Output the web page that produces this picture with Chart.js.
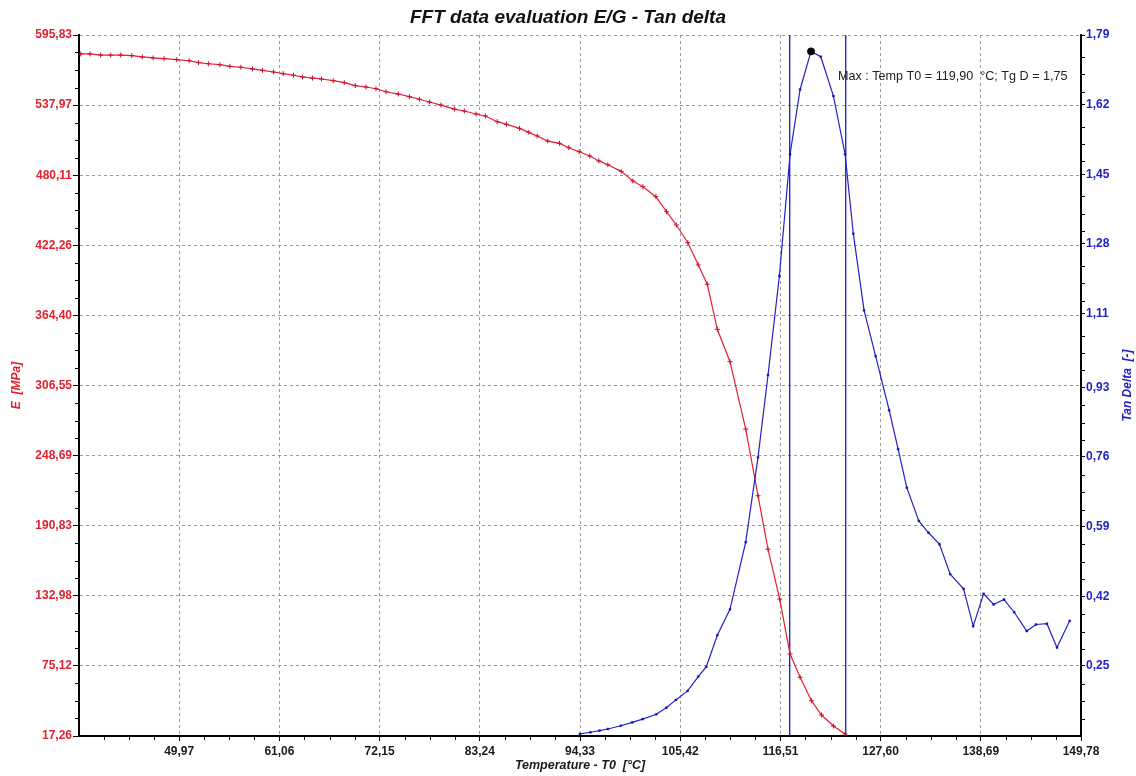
<!DOCTYPE html>
<html><head><meta charset="utf-8">
<script src="https://cdn.jsdelivr.net/npm/chart.js@4"></script>
<style>html,body{margin:0;padding:0;background:#fff;}canvas{display:block;}</style>
</head><body>
<canvas id="c" width="1136" height="776"></canvas>
<script>
const chartTitle = 'FFT data evaluation E/G - Tan delta';
const xTitle = 'Temperature - T0  [°C]';
const yLeftTitle = 'E  [MPa]';
const yRightTitle = 'Tan Delta  [-]';

const xMin = 38.88;
const tanMin = 0.0789;
const xTickLabels = ['49,97','61,06','72,15','83,24','94,33','105,42','116,51','127,60','138,69','149,78'];
const eTickLabels = ['17,26','75,12','132,98','190,83','248,69','306,55','364,40','422,26','480,11','537,97','595,83'];
const tanTickLabels = ['0,25','0,42','0,59','0,76','0,93','1,11','1,28','1,45','1,62','1,79'];

const tempE = [39.07,40.10,41.28,42.39,43.50,44.72,45.89,47.08,48.30,49.70,51.07,52.10,53.20,54.47,55.58,56.80,58.08,59.19,60.41,61.48,62.62,63.62,64.73,65.72,67.02,68.24,69.46,70.64,71.75,72.86,74.22,75.44,76.55,77.66,78.95,80.43,81.53,82.83,83.86,85.16,86.19,87.63,88.66,89.59,90.76,92.06,93.09,94.24,95.41,96.41,97.41,98.89,100.18,101.29,102.73,103.91,104.99,106.27,107.42,108.42,109.53,110.93,112.67,114.03,115.14,116.43,117.58,118.69,119.95,121.06,122.38,123.67];
const modulusE = [580.2,580.2,579.3,579.3,579.3,578.8,577.7,576.9,576.3,575.5,574.6,573.0,572.1,571.3,570.0,569.2,567.8,566.7,565.3,563.9,562.6,561.2,560.3,559.5,558.1,556.5,554.0,552.9,551.5,549.0,547.1,544.9,542.8,540.5,538.0,534.7,533.1,530.6,529.0,524.3,522.1,518.8,515.5,512.5,508.3,506.4,502.8,499.5,496.0,491.9,488.8,483.3,475.3,470.6,462.4,450.0,439.0,424.4,406.0,390.1,352.9,326.2,270.6,215.6,171.4,130.3,84.9,65.7,46.4,34.6,25.5,18.9];

const tempTan = [94.31,95.49,96.49,97.41,98.85,100.11,101.26,102.77,103.88,104.94,106.24,107.42,108.31,109.53,110.93,112.67,114.03,115.14,116.40,117.58,118.69,119.90,120.98,122.38,123.67,124.58,125.77,127.05,128.55,129.54,130.50,131.83,132.91,134.12,135.30,136.78,137.85,139.00,140.11,141.25,142.39,143.77,144.79,146.01,147.12,148.53];
const tanDelta = [0.084,0.088,0.092,0.096,0.104,0.112,0.120,0.132,0.148,0.167,0.189,0.224,0.248,0.325,0.388,0.552,0.759,0.960,1.202,1.499,1.657,1.750,1.737,1.641,1.499,1.305,1.118,1.006,0.874,0.779,0.685,0.604,0.575,0.547,0.474,0.438,0.347,0.426,0.400,0.412,0.381,0.335,0.351,0.353,0.295,0.360];

const markerTemps = [117.54, 123.74];

const parseNum = s => parseFloat(s.replace(',', '.'));
const fmtNum = v => v.toFixed(2).replace('.', ',');
const FONT = '"Liberation Sans", Arial, sans-serif';
const RED = '#e3202e';
const BLUE = '#2222c8';

const eData = tempE.map((t, i) => ({x: t, y: modulusE[i]}));
const tanData = tempTan.map((t, i) => ({x: t, y: tanDelta[i]}));
let maxIdx = 0;
tanDelta.forEach((v, i) => { if (v > tanDelta[maxIdx]) maxIdx = i; });
const maxPoint = {x: tempTan[maxIdx], y: tanDelta[maxIdx]};
const tanMax = parseNum(tanTickLabels[tanTickLabels.length - 1]);

const lineSets = markerTemps.map(t => ({
  data: [{x: t, y: tanMin}, {x: t, y: tanMax}],
  yAxisID: 'yT', borderColor: '#1a1ac0', borderWidth: 1.3, pointRadius: 0, showLine: true, order: 3
}));

const decor = {
  id: 'decor',
  afterDraw(chart) {
    const ctx = chart.ctx, a = chart.chartArea;
    ctx.save();
    ctx.strokeStyle = '#000';
    ctx.lineWidth = 1;
    const minors = (scale, dir) => {
      const vals = scale.ticks.map(t => t.value);
      const step = (vals[1] - vals[0]) / 4;
      for (let v = scale.min + step; v < scale.max - step / 2; v += step) {
        const k = Math.round((v - scale.min) / step);
        if (k % 4 === 0) continue;
        const p = Math.round(scale.getPixelForValue(v)) + 0.5;
        ctx.beginPath();
        if (dir === 'left') { ctx.moveTo(a.left - 4, p); ctx.lineTo(a.left, p); }
        else if (dir === 'right') { ctx.moveTo(a.right, p); ctx.lineTo(a.right + 4, p); }
        else { ctx.moveTo(p, a.bottom); ctx.lineTo(p, a.bottom + 4); }
        ctx.stroke();
      }
    };
    minors(chart.scales.yE, 'left');
    minors(chart.scales.yT, 'right');
    minors(chart.scales.x, 'bottom');

    ctx.font = 'italic bold 12px ' + FONT;
    ctx.textAlign = 'center';
    ctx.textBaseline = 'middle';
    const cy = (a.top + a.bottom) / 2;
    ctx.fillStyle = RED;
    ctx.save(); ctx.translate(17, cy); ctx.rotate(-Math.PI / 2); ctx.fillText(yLeftTitle, 0, 0); ctx.restore();
    ctx.fillStyle = BLUE;
    ctx.save(); ctx.translate(1128, cy); ctx.rotate(-Math.PI / 2); ctx.fillText(yRightTitle, 0, 0); ctx.restore();
    ctx.fillStyle = '#1a1a1a';
    ctx.font = 'italic bold 12.5px ' + FONT;
    ctx.fillText(xTitle, (a.left + a.right) / 2, 766);

    const px = chart.scales.x.getPixelForValue(maxPoint.x);
    const py = chart.scales.yT.getPixelForValue(maxPoint.y);
    ctx.font = '12.6px ' + FONT;
    ctx.textAlign = 'left';
    ctx.fillStyle = '#222';
    ctx.fillText('Max : Temp T0 = ' + fmtNum(maxPoint.x) + '  °C; Tg D = ' + fmtNum(maxPoint.y), px + 27, py + 25);
    ctx.restore();
  }
};

new Chart(document.getElementById('c'), {
  type: 'scatter',
  data: {
    datasets: [
      {data: eData, yAxisID: 'yE', showLine: true, borderColor: RED, borderWidth: 1.2,
       pointStyle: 'cross', pointRadius: 2.5, pointBorderWidth: 1, pointBorderColor: '#c8102a', order: 2},
      {data: tanData, yAxisID: 'yT', showLine: true, borderColor: BLUE, borderWidth: 1.2,
       pointStyle: 'rect', pointRadius: 1.3, pointBackgroundColor: '#1010b0', pointBorderColor: '#1010b0', pointBorderWidth: 0.5, order: 1},
      ...lineSets,
      {data: [maxPoint], yAxisID: 'yT', pointStyle: 'circle', pointRadius: 3.5, pointBackgroundColor: '#000', pointBorderColor: '#000', order: 0}
    ]
  },
  options: {
    responsive: false,
    animation: false,
    devicePixelRatio: 1,
    layout: {padding: 0},
    plugins: {
      legend: {display: false},
      tooltip: {enabled: false},
      title: {display: true, text: chartTitle, color: '#111',
        font: {family: FONT, size: 19, weight: 'bold', style: 'italic'},
        padding: {top: 6, bottom: 6.2}}
    },
    scales: {
      x: {
        type: 'linear', position: 'bottom', min: xMin, max: parseNum(xTickLabels[xTickLabels.length - 1]),
        afterBuildTicks: s => { s.ticks = xTickLabels.map(l => ({value: parseNum(l)})); },
        afterFit: s => { s.height = 40; },
        ticks: {callback: (v, i) => xTickLabels[i], color: '#1a1a1a', font: {family: FONT, size: 12, weight: 'bold'},
          padding: 3, maxRotation: 0, autoSkip: false},
        grid: {color: '#9a9a9a', lineWidth: 1, drawTicks: true, tickLength: 5, tickColor: '#000'},
        border: {display: true, color: '#000', width: 2, dash: [3, 3]}
      },
      yE: {
        type: 'linear', position: 'left', min: parseNum(eTickLabels[0]), max: parseNum(eTickLabels[eTickLabels.length - 1]),
        afterBuildTicks: s => { s.ticks = eTickLabels.map(l => ({value: parseNum(l)})); },
        afterFit: s => { s.width = 79; },
        ticks: {callback: (v, i) => eTickLabels[i], color: RED, font: {family: FONT, size: 12, weight: 'bold'},
          padding: 1, autoSkip: false},
        grid: {color: '#9a9a9a', lineWidth: 1, drawTicks: true, tickLength: 6, tickColor: '#000'},
        border: {display: true, color: '#000', width: 2, dash: [3, 3]}
      },
      yT: {
        type: 'linear', position: 'right', min: tanMin, max: tanMax,
        afterBuildTicks: s => { s.ticks = tanTickLabels.map(l => ({value: parseNum(l)})); },
        afterFit: s => { s.width = 55; },
        ticks: {callback: (v, i) => tanTickLabels[i], color: BLUE, font: {family: FONT, size: 12, weight: 'bold'},
          padding: 1, autoSkip: false},
        grid: {drawOnChartArea: false, drawTicks: true, tickLength: 4, tickColor: '#000'},
        border: {display: true, color: '#000', width: 2}
      }
    }
  },
  plugins: [decor]
});
</script>
</body></html>
